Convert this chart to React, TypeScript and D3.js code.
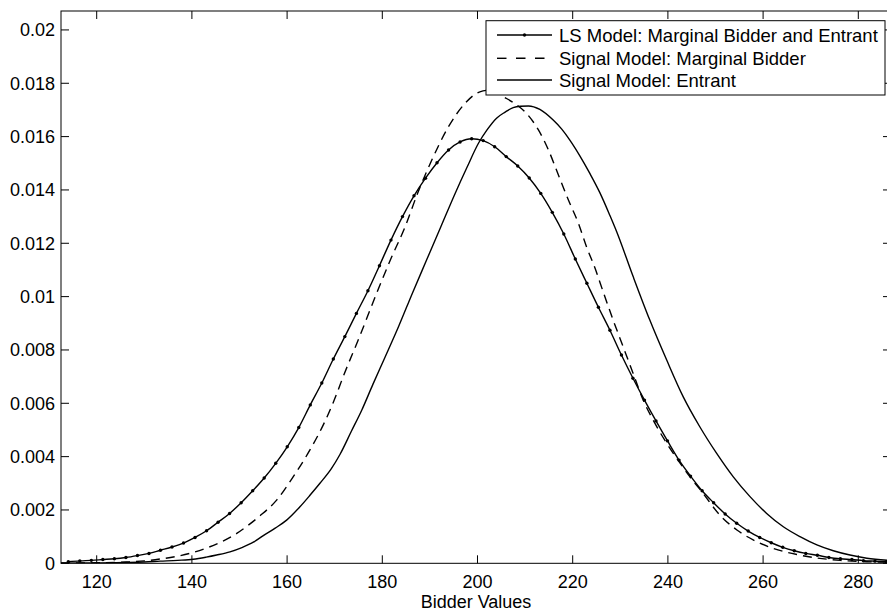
import React from 'react';
import * as d3 from 'd3';

const X_TICKS = [120, 140, 160, 180, 200, 220, 240, 260, 280];
const Y_TICKS = [0, 0.002, 0.004, 0.006, 0.008, 0.01, 0.012, 0.014, 0.016, 0.018, 0.02];
const Y_TICK_LABELS = ['0', '0.002', '0.004', '0.006', '0.008', '0.01', '0.012', '0.014', '0.016', '0.018', '0.02'];
const X_LABEL = 'Bidder Values';
const LEGEND_LABELS = [
  'LS Model: Marginal Bidder and Entrant',
  'Signal Model: Marginal Bidder',
  'Signal Model: Entrant',
];

// LS Model: Marginal Bidder and Entrant (dotted markers at each point)
const LS_X = [
  114.03, 116.45, 118.87, 121.29, 123.71, 126.14, 128.56, 130.98, 133.4, 135.82,
  138.24, 140.66, 143.08, 145.5, 147.92, 150.35, 152.77, 155.19, 157.61, 160.03,
  162.45, 164.87, 167.29, 169.71, 172.13, 174.56, 176.98, 179.4, 181.82, 184.24,
  186.66, 189.08, 191.5, 193.92, 196.34, 198.77, 201.19, 203.61, 206.03, 208.45,
  210.87, 213.29, 215.71, 218.13, 220.55, 222.98, 225.4, 227.82, 230.24, 232.66,
  235.08, 237.5, 239.92, 242.34, 244.76, 247.19, 249.61, 252.03, 254.45, 256.87,
  259.29, 261.71, 264.13, 266.55, 268.97, 271.4, 273.82, 276.24, 278.66, 281.08,
  283.5, 285.92,
];
const LS_Y = [
  0.00006, 0.00009, 0.00011, 0.00014, 0.00017, 0.00022, 0.00029, 0.00037, 0.00049, 0.00061,
  0.00076, 0.00097, 0.00122, 0.00154, 0.00187, 0.00227, 0.00272, 0.0032, 0.00375, 0.00437,
  0.00509, 0.00594, 0.00676, 0.00766, 0.0085, 0.00937, 0.01022, 0.01116, 0.01212, 0.013,
  0.01378, 0.01444, 0.01502, 0.0155, 0.0158, 0.01592, 0.01585, 0.01562, 0.01525, 0.0149,
  0.01445, 0.01387, 0.01316, 0.01235, 0.01141, 0.0105, 0.0096, 0.00874, 0.00781, 0.00694,
  0.00612, 0.00534, 0.00459, 0.00387, 0.00327, 0.00272, 0.00227, 0.00185, 0.0015, 0.00121,
  0.00097, 0.00077, 0.0006, 0.00047, 0.00037, 0.0003, 0.00022, 0.00017, 0.00014, 0.0001,
  0.00008, 0.00006,
];

// Signal Model: Marginal Bidder (dashed)
const MB_X = [
  112.5, 120, 126.3, 130, 133.3, 137.1, 140.5, 143.5, 146, 149.5,
  152, 154.3, 157.8, 161.3, 164.8, 167.6, 169.9, 172, 175, 178.8,
  181.8, 184.8, 187.4, 190.4, 193.9, 197.4, 200.5, 203, 205.4, 208,
  210.3, 212.8, 214.9, 217, 219.1, 221.2, 222.9, 224.7, 226.4, 228.5,
  230.6, 232.7, 234.8, 236.9, 239.75, 242, 244.6, 247.4, 250.9, 254.5,
  258, 262.1, 267.1, 271.3, 276.2, 281.8, 287,
];
const MB_Y = [
  0.00001, 0.00002, 0.00005, 0.00009, 0.00016, 0.00027, 0.00042, 0.0006, 0.00079, 0.00113,
  0.00145, 0.00178, 0.00237, 0.00325, 0.00425, 0.00519, 0.00612, 0.0071, 0.0084, 0.01012,
  0.01142, 0.01262, 0.01387, 0.01512, 0.01637, 0.01725, 0.01768, 0.01775, 0.0175, 0.01722,
  0.01687, 0.01625, 0.0155, 0.01456, 0.01362, 0.01275, 0.01187, 0.01106, 0.01018, 0.00912,
  0.00812, 0.00712, 0.00612, 0.00537, 0.0045, 0.0039, 0.00325, 0.00262, 0.00181, 0.00125,
  0.00087, 0.00056, 0.00033, 0.0002, 0.00011, 0.00006, 0.00004,
];

// Signal Model: Entrant (solid)
const EN_X = [
  112.5, 120, 126, 130, 133.3, 137, 140.3, 143, 145.2, 148,
  150.5, 153, 155, 157.5, 159.9, 162.7, 164.8, 166.9, 169.3, 171.1,
  173.5, 175.7, 178, 180.5, 183.4, 186.3, 189.3, 192.3, 195.3, 197.8,
  200.2, 202, 204, 205.8, 207.5, 209, 210.7, 213.1, 215.9, 217.7,
  219.4, 221.5, 223.6, 225.7, 227.8, 229.2, 232.7, 236.2, 239.75, 243.2,
  246.7, 250.25, 253.7, 257.25, 260.75, 264.25, 267.75, 271.3, 274.75, 278.25,
  281.8, 287,
];
const EN_Y = [
  0.000005, 0.00001, 0.00003, 0.00005, 0.00008, 0.00011, 0.00015, 0.00023, 0.00031, 0.00043,
  0.00059, 0.0008, 0.00104, 0.00132, 0.00162, 0.00212, 0.00255, 0.003, 0.00355, 0.00408,
  0.00495, 0.00575, 0.0067, 0.0077, 0.00887, 0.01012, 0.01137, 0.01262, 0.01387, 0.01485,
  0.01575, 0.01625, 0.01669, 0.01692, 0.01709, 0.01714, 0.01715, 0.01702, 0.01662, 0.01628,
  0.01587, 0.01528, 0.01462, 0.0139, 0.01305, 0.01245, 0.01075, 0.00912, 0.00762, 0.00625,
  0.00512, 0.00412, 0.00325, 0.0025, 0.00187, 0.00137, 0.001, 0.00069, 0.00047, 0.00031,
  0.00019, 0.0001,
];

const W = 887;
const H = 613;
const FONT = '"Liberation Sans", Arial, Helvetica, sans-serif';

export default function App() {
  const left = 61;
  const right = 891;
  const top = 11;
  const bottom = 563.3;
  const x = d3.scaleLinear().domain([112.5, 286.87]).range([left, right]);
  const y = d3.scaleLinear().domain([0, 0.02071]).range([bottom, top]);

  const line = d3
    .line<[number, number]>()
    .x((d) => x(d[0]))
    .y((d) => y(d[1]))
    .curve(d3.curveMonotoneX);

  const lsData: [number, number][] = LS_X.map((v, i) => [v, LS_Y[i]]);
  const mbData: [number, number][] = MB_X.map((v, i) => [v, MB_Y[i]]);
  const enData: [number, number][] = EN_X.map((v, i) => [v, EN_Y[i]]);

  const tickLen = 8;
  const lw = 1.4;

  const legX0 = 486;
  const legX1 = 885;
  const legY0 = 20.7;
  const legY1 = 95;
  const rowY = [35, 58.3, 80];
  const sampleX0 = 497;
  const sampleX1 = 552;
  const textX = 559;

  return (
    <svg
      width={W}
      height={H}
      style={{ position: 'absolute', left: 0, top: 0, background: '#fff' }}
      fontFamily={FONT}
    >
      <rect x={0} y={0} width={W} height={H} fill="#fff" />
      <defs>
        <clipPath id="plot">
          <rect x={left} y={top} width={right - left} height={bottom - top} />
        </clipPath>
      </defs>

      <g clipPath="url(#plot)">
        <path d={line(lsData) || ''} fill="none" stroke="#000" strokeWidth={lw} />
        {lsData.map((d, i) => (
          <circle key={i} cx={x(d[0])} cy={y(d[1])} r={1.7} fill="#000" />
        ))}
        <path
          d={line(mbData) || ''}
          fill="none"
          stroke="#000"
          strokeWidth={lw}
          strokeDasharray="9,6"
        />
        <path d={line(enData) || ''} fill="none" stroke="#000" strokeWidth={lw} />
      </g>

      {/* frame */}
      <rect
        x={left}
        y={top}
        width={right - left}
        height={bottom - top}
        fill="none"
        stroke="#000"
        strokeWidth={1}
      />

      {/* x ticks */}
      {X_TICKS.map((t) => (
        <g key={'x' + t}>
          <line x1={x(t)} x2={x(t)} y1={bottom} y2={bottom - tickLen} stroke="#000" strokeWidth={1} />
          <line x1={x(t)} x2={x(t)} y1={top} y2={top + tickLen} stroke="#000" strokeWidth={1} />
          <text x={x(t)} y={588.3} textAnchor="middle" fontSize={18} fill="#000">
            {t}
          </text>
        </g>
      ))}

      {/* y ticks */}
      {Y_TICKS.map((t, i) => (
        <g key={'y' + i}>
          <line x1={left} x2={left + tickLen} y1={y(t)} y2={y(t)} stroke="#000" strokeWidth={1} />
          <line x1={right} x2={right - tickLen} y1={y(t)} y2={y(t)} stroke="#000" strokeWidth={1} />
          <text x={55} y={y(t) + 6.4} textAnchor="end" fontSize={18} fill="#000">
            {Y_TICK_LABELS[i]}
          </text>
        </g>
      ))}

      <text x={(left + right) / 2} y={607.7} textAnchor="middle" fontSize={18} fill="#000">
        {X_LABEL}
      </text>

      {/* legend */}
      <rect
        x={legX0}
        y={legY0}
        width={legX1 - legX0}
        height={legY1 - legY0}
        fill="#fff"
        stroke="#000"
        strokeWidth={1}
      />
      <line x1={sampleX0} x2={sampleX1} y1={rowY[0]} y2={rowY[0]} stroke="#000" strokeWidth={lw} />
      <circle cx={(sampleX0 + sampleX1) / 2} cy={rowY[0]} r={1.7} fill="#000" />
      <line
        x1={sampleX0}
        x2={sampleX1}
        y1={rowY[1]}
        y2={rowY[1]}
        stroke="#000"
        strokeWidth={lw}
        strokeDasharray="9.5,9.5"
      />
      <line x1={sampleX0} x2={sampleX1} y1={rowY[2]} y2={rowY[2]} stroke="#000" strokeWidth={lw} />
      {LEGEND_LABELS.map((l, i) => (
        <text key={l} x={textX} y={rowY[i] + 6.5} fontSize={18.5} fill="#000">
          {l}
        </text>
      ))}
    </svg>
  );
}
